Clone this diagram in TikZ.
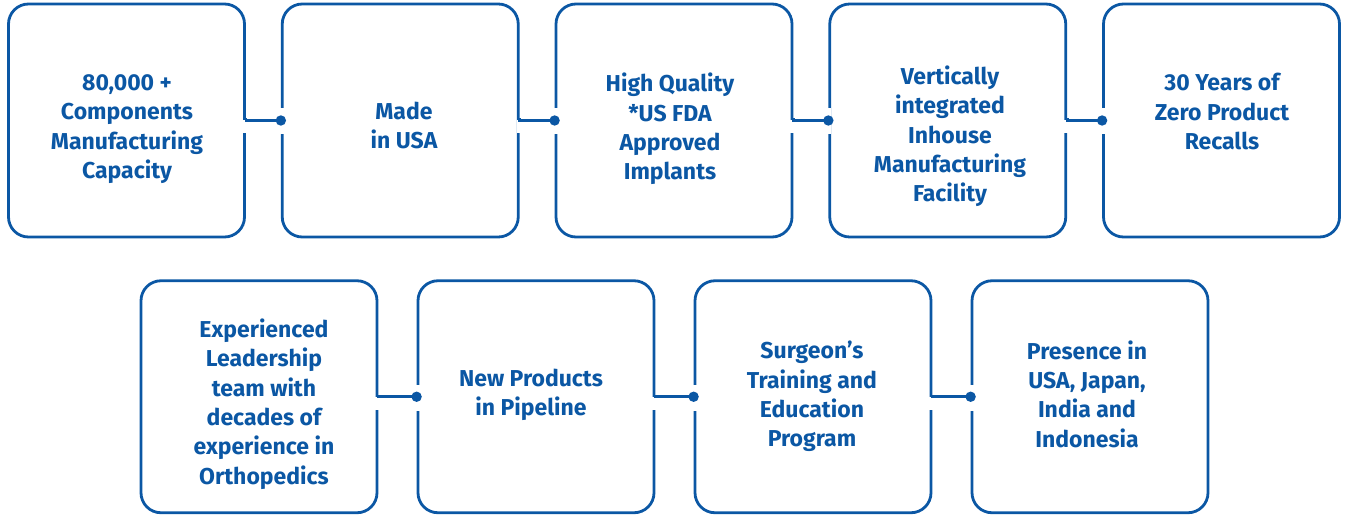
\documentclass[tikz,border=0pt]{standalone}
\usepackage{fontspec}
\setmainfont{Fira Sans}
\definecolor{myblue}{HTML}{0B57A4}
\begin{document}
\begin{tikzpicture}[x=1pt,y=1pt,
 card/.style={draw=myblue, line width=2.8pt, rounded corners=20pt, minimum width=236pt, minimum height=233pt, inner sep=0pt},
 cardb/.style={card, minimum height=232pt},
 txt/.style={text=myblue, font=\fontsize{23}{29.3}\selectfont\bfseries, align=center, inner sep=0pt},
 link/.style={draw=myblue, line width=2.8pt},
 gap/.style={fill=white},
 dot/.style={fill=myblue}]
\useasboundingbox (0,0) rectangle (1349,515);
% top row boxes
\node[card] (A) at (126.5,394.5) {};
\node[card] (B) at (400.25,394.5) {};
\node[card] (C) at (674,394.5) {};
\node[card] (D) at (947.75,394.5) {};
\node[card] (E) at (1221.5,394.5) {};
% bottom row boxes
\node[cardb] (F) at (259,118.25) {};
\node[cardb] (G) at (536,118.25) {};
\node[cardb] (H) at (813,118.25) {};
\node[cardb] (I) at (1090,118.25) {};
% connectors
\foreach \a/\b in {A/B,B/C,C/D,D/E,F/G,G/H,H/I}{
  \fill[gap] ([xshift=-3pt]\a.east) rectangle ([xshift=3pt,yshift=-13pt]\a.east);
  \fill[gap] ([xshift=-3pt,yshift=12pt]\b.west) rectangle ([xshift=3pt,yshift=-14pt]\b.west);
  \draw[link] ([yshift=2pt]\a.east) -- (\a.east) -- (\b.west);
  \fill[dot] (\b.west) circle (5.2pt);
}
% texts
\node[txt] (tA) at (127,386) {80,000 +\\Components\\Manufacturing\\Capacity};
\node[txt] (tB) at (404,389.5) {Made\\in USA};
\node[txt] (tC) at (670,386) {High Quality\\*US FDA\\Approved\\Implants};
\node[txt] (tD) at (950,378.5) {Vertically\\integrated\\Inhouse\\Manufacturing\\Facility};
\node[txt] (tE) at (1222,403.5) {30 Years of\\Zero Product\\Recalls};
\node[txt] (tF) at (264,111) {Experienced\\Leadership\\team with\\decades of\\experience in\\Orthopedics};
\node[txt] (tG) at (531,120) {New Products\\in Pipeline};
\node[txt] (tH) at (812,118.5) {Surgeon’s\\Training and\\Education\\Program};
\node[txt] (tI) at (1087,121) {Presence in\\USA, Japan,\\India and\\Indonesia};
\end{tikzpicture}
\end{document}
